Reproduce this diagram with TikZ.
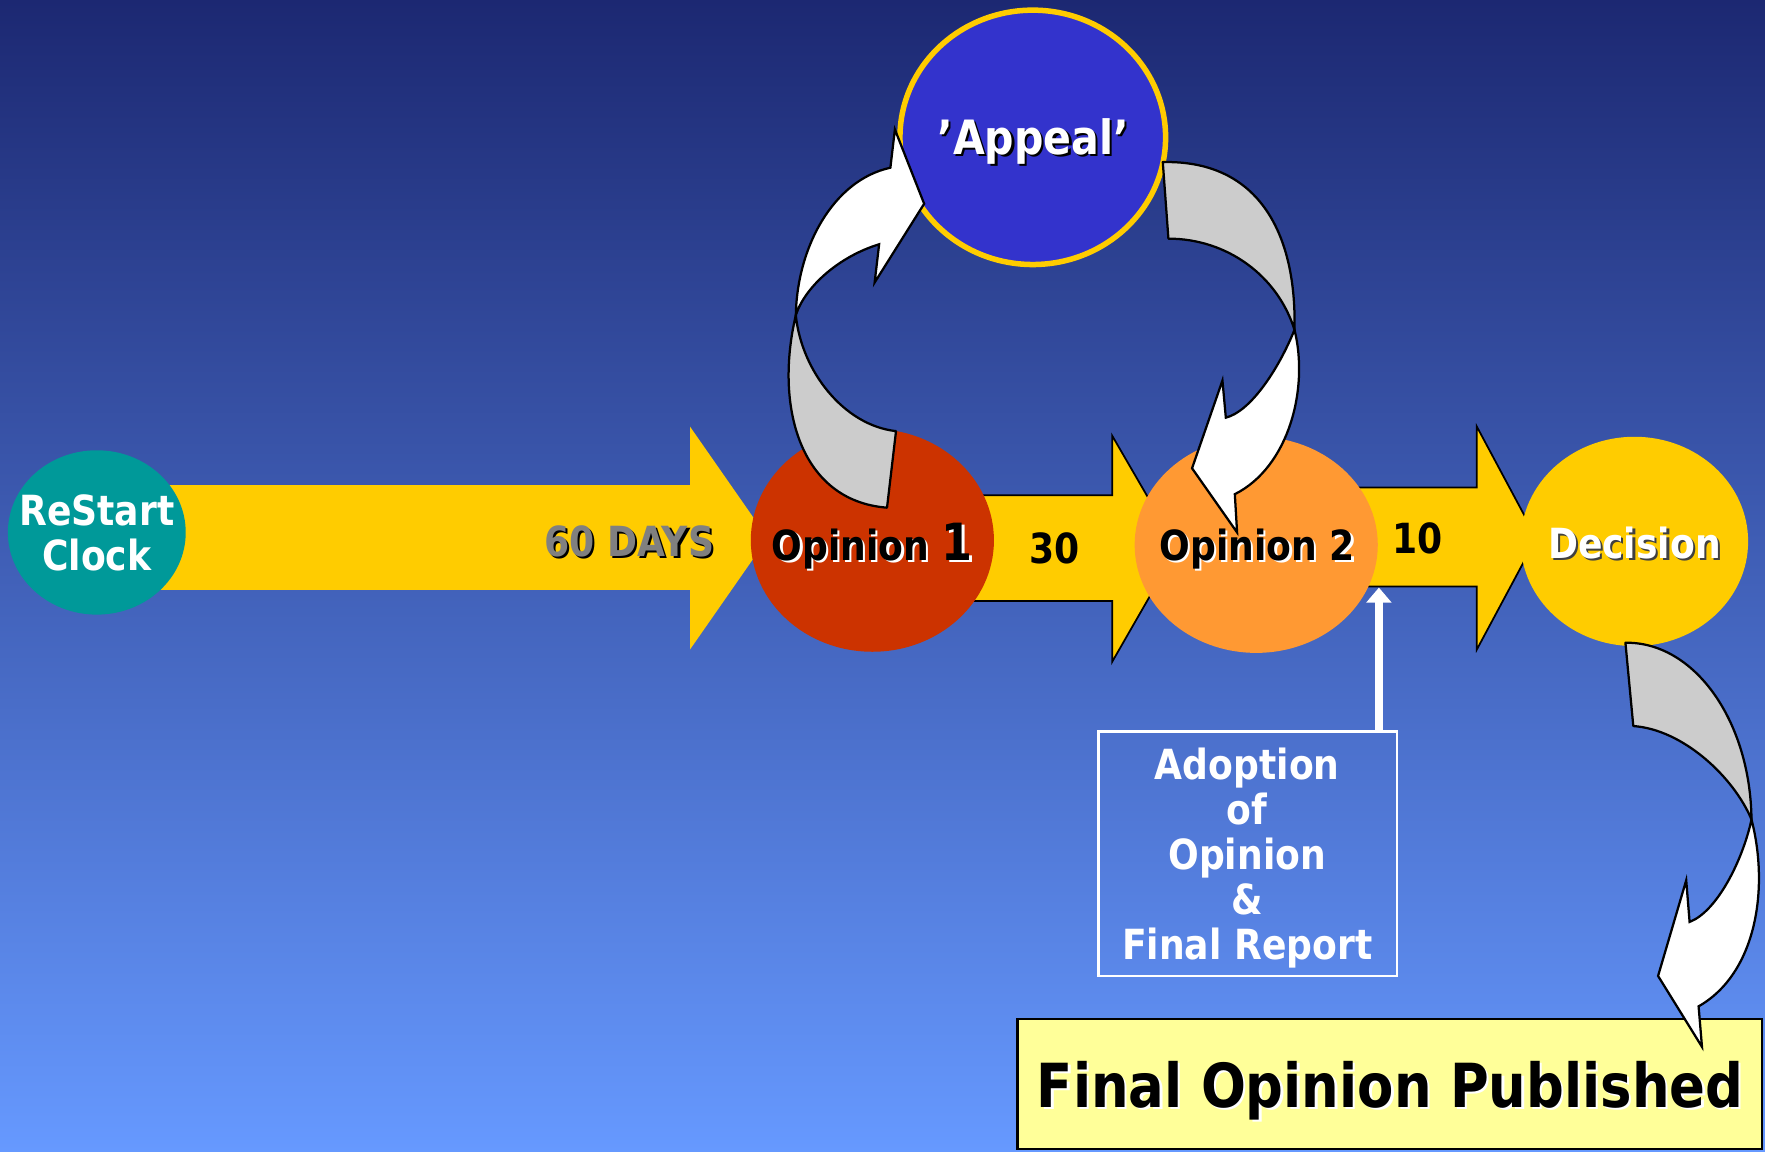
\documentclass[tikz,border=0pt]{standalone}
\usepackage{fontspec}
\newfontfamily\vb{DejaVu Sans Bold}[FakeStretch=0.87]
\usetikzlibrary{shapes.geometric,arrows.meta}

\definecolor{bgtop}{HTML}{1C2872}
\definecolor{bgmid}{HTML}{4666BE}
\definecolor{bgbot}{HTML}{6699FF}
\definecolor{gold}{HTML}{FFCC00}
\definecolor{clockteal}{HTML}{009999}
\definecolor{opred}{HTML}{CC3300}
\definecolor{oporange}{HTML}{FF9933}
\definecolor{appealblue}{HTML}{3333CC}
\definecolor{palegold}{HTML}{FFFF99}
\definecolor{backgray}{HTML}{CCCCCC}
\definecolor{daysgray}{HTML}{808080}

% text with a drop shadow: #1 text colour, #2 shadow colour, #3 text
\newcommand{\shtext}[3]{\rlap{\kern0.9pt\raisebox{-0.9pt}{\textcolor{#2}{#3}}}\textcolor{#1}{#3}}

\tikzset{
  blob/.style args={#1/#2}{ellipse, inner sep=0pt, minimum width=#1*0.45pt, minimum height=#2*0.45pt},
  flowarrow/.style={fill=gold},
  outlined/.style={draw=black, line width=0.7pt, line join=miter},
  backface/.style={fill=backgray, draw=black, line width=0.9pt, line join=round},
  frontface/.style={fill=white, draw=black, line width=0.9pt, line join=miter},
  lbl/.style={font=\vb\fontsize{16.6}{18}\selectfont, inner sep=0pt, anchor=base},
  biglbl/.style={font=\vb\fontsize{18.9}{20}\selectfont, inner sep=0pt, anchor=base},
  hugelbl/.style={font=\vb\fontsize{24.3}{26}\selectfont, inner sep=0pt, anchor=base},
}

\begin{document}
\begin{tikzpicture}[x=0.45pt, y=-0.45pt]
\useasboundingbox (0,0) rectangle (1568,1023);

% background
\shade[top color=bgtop, middle color=bgmid, bottom color=bgbot] (0,0) rectangle (1568,1023);

% block arrows along the time line
\fill[flowarrow] (140,431) -- (613,431) -- (613,379) -- (682,478) -- (613,577) -- (613,524) -- (140,524) -- cycle;
\filldraw[flowarrow, outlined] (850,440) -- (988,440) -- (988,387) -- (1046,487) -- (988,588) -- (988,534) -- (850,534) -- cycle;
\filldraw[flowarrow, outlined] (1190,433) -- (1312,433) -- (1312,379) -- (1365,478) -- (1312,577) -- (1312,521) -- (1190,521) -- cycle;

% stages
\node[blob=158/146, fill=clockteal] (clock) at (86,473) {};
\node[blob=216/198, fill=opred] (op1) at (775,480) {};
\node[blob=216/192, fill=oporange] (op2) at (1116,484) {};
\node[blob=202/186, fill=gold] (decision) at (1452,481) {};
\node[blob=236/226, fill=appealblue, draw=gold, line width=2.2pt] (appeal) at (917.5,122) {};

% adoption box and its arrow
\node[draw=white, line width=1pt, minimum width=119.25pt, minimum height=97.65pt, inner sep=0pt] (adopt) at (1108.5,758.5) {};
\coordinate (adoptIn) at (1225,522);
\draw[white, line width=3.2pt, -{Triangle[width=9.8pt,length=6pt]}] (adopt.north -| adoptIn) -- (adoptIn);

% final box
\node[fill=palegold, draw=black, line width=0.9pt, minimum width=297.45pt, minimum height=52.2pt, inner sep=0pt] (published) at (1234.5,963) {};

% curved arrow: Opinion 1 to Appeal
\filldraw[backface] (788,451) -- (796,383) .. controls (750,378) and (712,330) .. (707,280)
  .. controls (688,360) and (710,445) .. (788,451) -- cycle;
\filldraw[frontface] (707,280) .. controls (708,220) and (740,160) .. (791,149) -- (795,115) -- (821,181)
  -- (777,251) -- (781,217) .. controls (745,228) and (715,255) .. (707,280) -- cycle;

% curved arrow: Appeal to Opinion 2
\filldraw[backface] (1033,144) .. controls (1120,142) and (1152,210) .. (1150,293)
  .. controls (1135,245) and (1090,212) .. (1038,212) -- cycle;
\filldraw[frontface] (1150,293) .. controls (1163,345) and (1145,415) .. (1097,439) -- (1099,473) -- (1059,416)
  -- (1086,338) -- (1089,371) .. controls (1110,366) and (1135,330) .. (1150,293) -- cycle;

% curved arrow: Decision to publication
\filldraw[backface] (1444,571) .. controls (1505,570) and (1555,640) .. (1556,728)
  .. controls (1540,690) and (1495,648) .. (1451,645) -- cycle;
\filldraw[frontface] (1556,728) .. controls (1572,790) and (1560,865) .. (1509,894) -- (1512,930) -- (1473,867)
  -- (1498,782) -- (1501,819) .. controls (1525,810) and (1548,765) .. (1556,728) -- cycle;

% labels
\node[lbl, align=center, anchor=center, text=white] (clocktext) at (86,473) {ReStart\\Clock};
\node[lbl] (daystext) at (559,494) {\shtext{daysgray}{black}{60 DAYS}};
\node[lbl] (op1text) at (775,498) {\shtext{black}{white}{Opinion {\fontsize{20.5}{20}\selectfont 1}}};
\node[lbl] (thirtytext) at (937,501) {30};
\node[lbl] (op2text) at (1117,498) {\shtext{black}{white}{Opinion 2}};
\node[lbl] (tentext) at (1259,492) {10};
\node[lbl] (decisiontext) at (1452,496) {\shtext{white}{black!75}{Decision}};
\node[biglbl] (appealtext) at (918,137) {\shtext{white}{black}{’Appeal’}};
\node[lbl, align=center, anchor=center, text=white] (adopttext) at (1108,762) {Adoption\\of\\Opinion\\\&\\Final Report};
\node[hugelbl] (publishedtext) at (1235,984) {\shtext{black}{white}{Final Opinion Published}};
\end{tikzpicture}
\end{document}
